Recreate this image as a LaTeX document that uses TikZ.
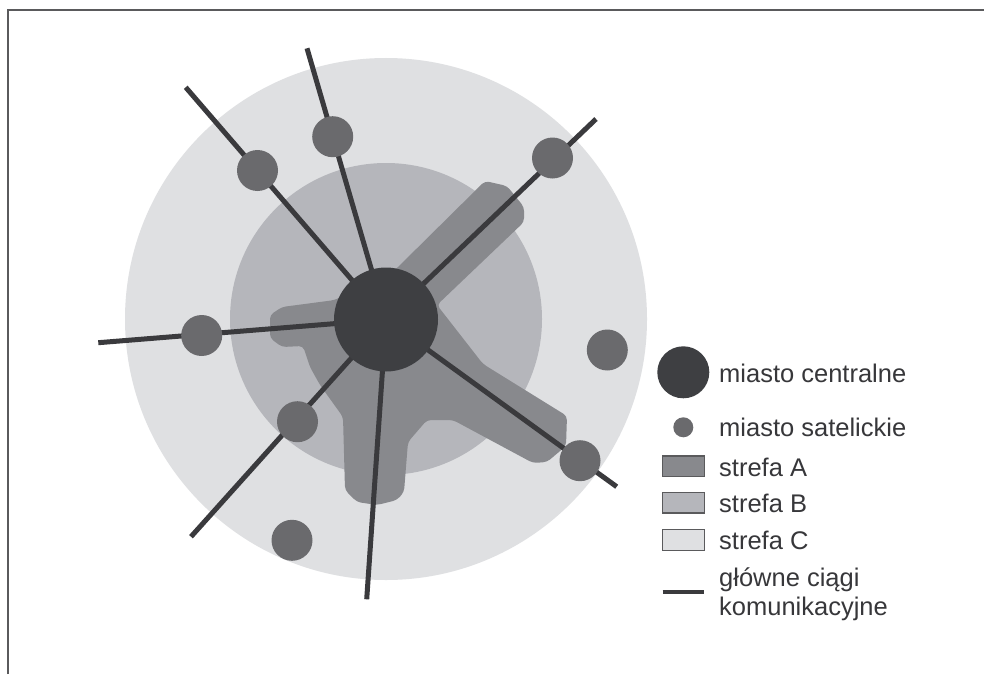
\documentclass[tikz,border=0pt]{standalone}
\usepackage{fontspec}
\setmainfont{Liberation Sans}
\definecolor{zoneC}{RGB}{223,224,226}
\definecolor{zoneB}{RGB}{181,182,187}
\definecolor{zoneA}{RGB}{136,137,141}
\definecolor{satcol}{RGB}{106,106,109}
\definecolor{cencol}{RGB}{62,63,66}
\definecolor{roadcol}{RGB}{58,58,61}
\definecolor{txtcol}{RGB}{55,55,58}
\definecolor{framecol}{RGB}{90,90,92}
\tikzset{
  sat/.style={circle, fill=satcol, inner sep=0pt, minimum size=41pt},
  road/.style={draw=roadcol, line width=5pt},
  legtext/.style={anchor=base west, inner sep=0pt, text=txtcol, font=\fontsize{25.5}{29.7}\selectfont},
  legbox/.style={draw=framecol, line width=1.2pt, minimum width=42pt, minimum height=20.5pt, inner sep=0pt}
}
\begin{document}
\begin{tikzpicture}[x=1pt,y=-1pt]
\useasboundingbox (0,0) rectangle (984,674);
\fill[white] (0,0) rectangle (984,674);
% frame
\draw[framecol, line width=1.6pt] (8,674) -- (8,10) -- (984,10);
% zones
\node[circle, fill=zoneC, inner sep=0pt, minimum size=522pt] (zc) at (386,319) {};
\node[circle, fill=zoneB, inner sep=0pt, minimum size=312pt] (zb) at (386,319) {};
\fill[zoneA, rounded corners=4pt]
  (395,270) -- (485,181) -- (507,186) -- (524,207) -- (524,222) -- (437,305)
  -- (483,364) -- (567,416) -- (566,446) -- (547,462) -- (533,463) -- (453,420)
  -- (427,420) -- (408,442) -- (404,492) -- (397,500) -- (377,505) -- (357,502)
  -- (345,490) -- (343,417) -- (320,385) -- (310,367) -- (303,346) -- (282,347)
  -- (270,338) -- (270,315) -- (282,307) -- (335,300) -- cycle;
% road ends
\coordinate (e1) at (185.7,87.3);
\coordinate (e2) at (307,48.3);
\coordinate (e3) at (596,119);
\coordinate (e4) at (98.3,342.7);
\coordinate (e5) at (191,536.7);
\coordinate (e6) at (366.7,599.3);
\coordinate (e7) at (616.7,486.7);
\coordinate (cc) at (386,319.5);
\foreach \e in {e1,e2,e3,e4,e5,e6,e7} \draw[road] (cc) -- (\e);
% central city
\node[circle, fill=cencol, inner sep=0pt, minimum size=104pt] (center) at (386,319.5) {};
% satellites
\node[sat] (s1) at (257.5,170.5) {};
\node[sat] (s2) at (332.7,136.7) {};
\node[sat] (s3) at (552.5,158) {};
\node[sat] (s4) at (201.7,335.5) {};
\node[sat] (s5) at (607.3,350) {};
\node[sat] (s6) at (297.5,421.7) {};
\node[sat] (s7) at (580,460.7) {};
\node[sat] (s8) at (292,540.3) {};
% legend
\node[circle, fill=cencol, inner sep=0pt, minimum size=52pt] (l1) at (683.3,372.3) {};
\node[circle, fill=satcol, inner sep=0pt, minimum size=20pt] (l2) at (683.3,427.3) {};
\node[legbox, fill=zoneA] (l3) at (683.2,466.3) {};
\node[legbox, fill=zoneB] (l4) at (683.2,502.8) {};
\node[legbox, fill=zoneC] (l5) at (683.2,540) {};
\coordinate (l6a) at (662.7,592.3);
\coordinate (l6b) at (704,592.3);
\draw[draw=roadcol, line width=4.2pt] (l6a) -- (l6b);
\node[legtext] (t1) at (719,382.3) {miasto centralne};
\node[legtext] (t2) at (719,436.7) {miasto satelickie};
\node[legtext] (t3) at (719,476) {strefa A};
\node[legtext] (t4) at (719,512.3) {strefa B};
\node[legtext] (t5) at (719,549) {strefa C};
\node[legtext] (t6) at (719,586) {główne ciągi};
\node[legtext] (t7) at (719,615.7) {komunikacyjne};
\end{tikzpicture}
\end{document}
